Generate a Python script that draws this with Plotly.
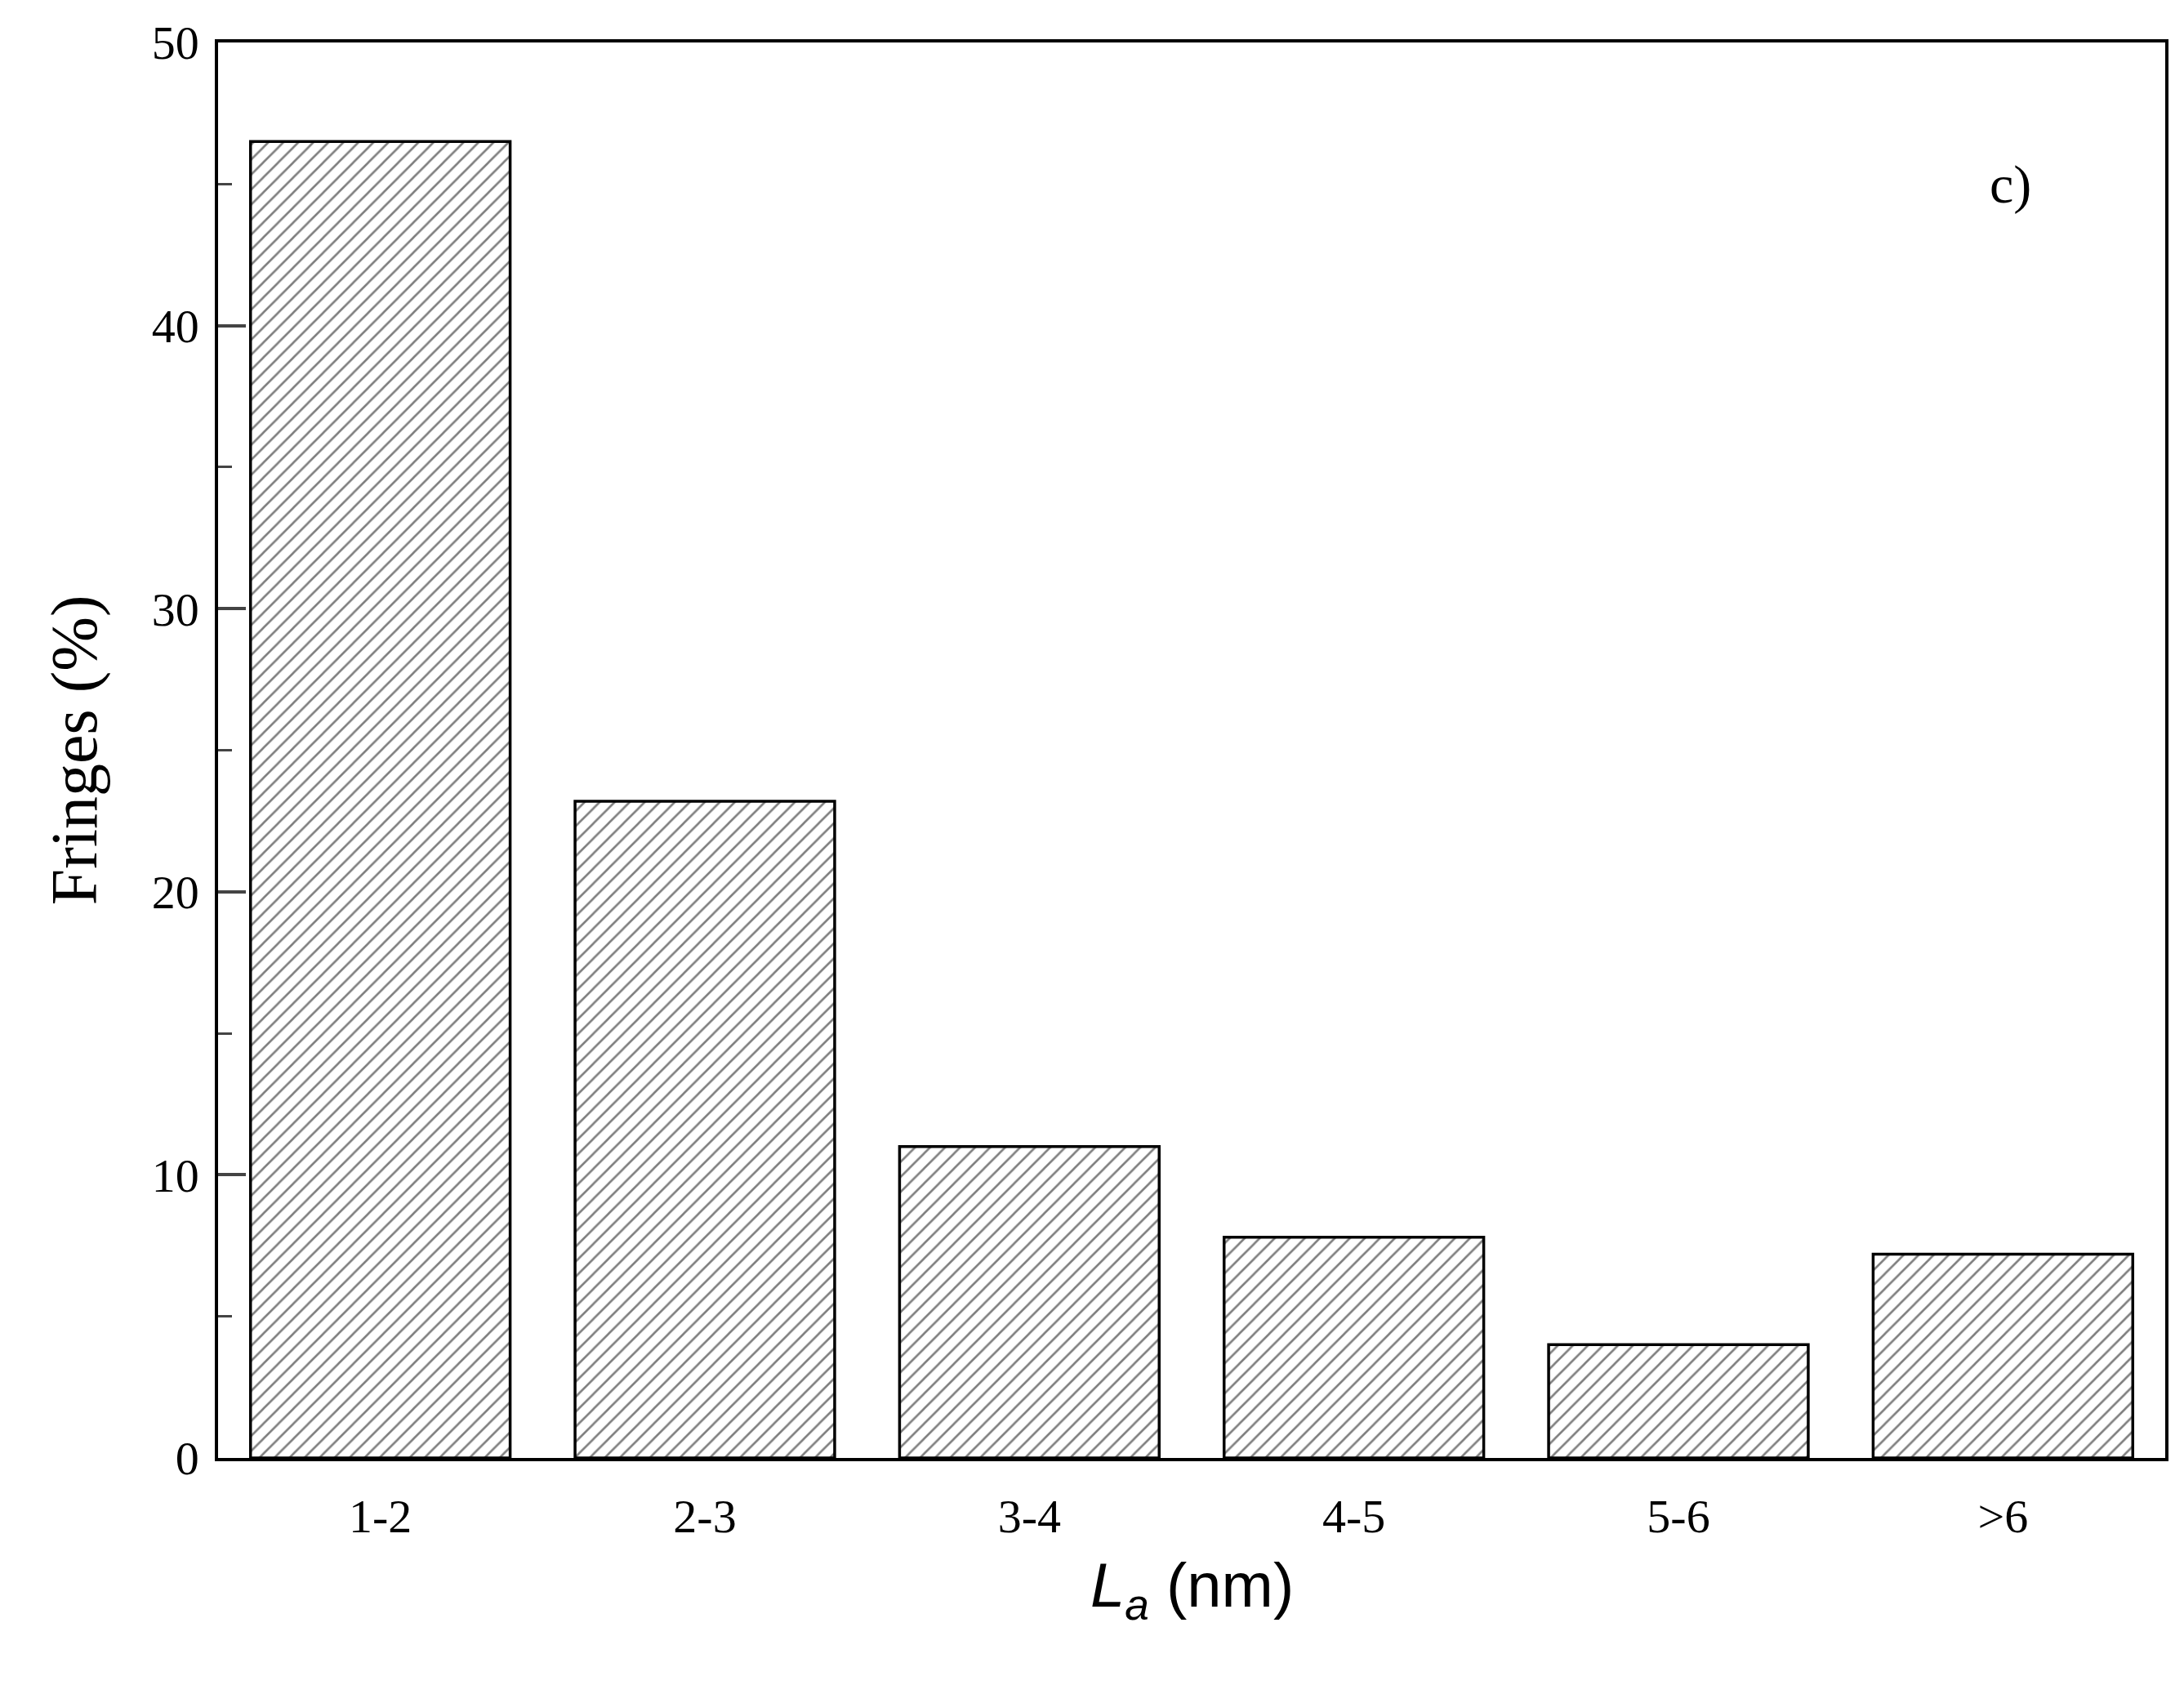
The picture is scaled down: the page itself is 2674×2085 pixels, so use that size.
import plotly.graph_objects as go

categories = ["1-2", "2-3", "3-4", "4-5", "5-6", ">6"]
fringes = [46.5, 23.2, 11.0, 7.8, 4.0, 7.2]

fig = go.Figure(go.Bar(
    x=list(range(len(categories))), y=fringes, width=0.8,
    marker=dict(color="white", line=dict(color="black", width=3.5),
                pattern=dict(shape="/", fgcolor="black", bgcolor="white",
                             size=13, solidity=0.2)),
))

serif = "Liberation Serif"
fig.update_layout(
    width=2674, height=2085,
    margin=dict(l=259, r=31, t=34, b=308),
    paper_bgcolor="white", plot_bgcolor="white",
    showlegend=False,
    font=dict(family=serif, size=58, color="black"),
    xaxis=dict(range=[-0.5, 5.5], tickvals=list(range(len(categories))),
               ticktext=categories, ticks="", showgrid=False, zeroline=False,
               showline=True, linecolor="black", linewidth=3.5, mirror=True,
               ticklabelstandoff=18),
    yaxis=dict(range=[0, 50], dtick=10, ticks="inside", ticklen=34, tickwidth=3.5,
               minor=dict(dtick=5, ticks="inside", ticklen=17, tickwidth=3),
               showgrid=False, zeroline=False, showline=True, linecolor="black",
               linewidth=3.5, mirror=True, ticklabelstandoff=8),
    annotations=[
        dict(text="c)", x=0.932, y=0.922, xref="paper", yref="paper",
             showarrow=False, font=dict(family=serif, size=66)),
        dict(text="Fringes (%)", x=-0.093, y=0.5, xref="paper", yref="paper",
             textangle=-90, showarrow=False, font=dict(family=serif, size=80)),
        dict(text="<i>L</i><sub><i>a</i></sub> (nm)", x=0.5, y=-0.122,
             xref="paper", yref="paper", showarrow=False,
             font=dict(family="Liberation Sans", size=76)),
    ],
)

fig.write_html("out.html")
